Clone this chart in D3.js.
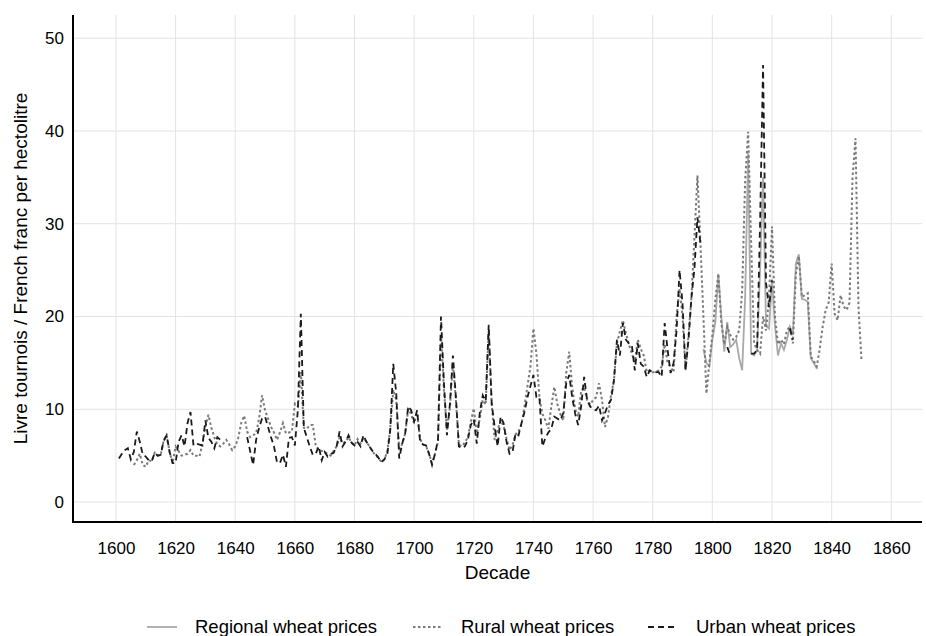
<!DOCTYPE html>
<meta charset="utf-8">
<style>
body { margin: 0; background: #fff; }
text { font-family: "Liberation Sans", Arial, sans-serif; fill: #000; }
.grid line { stroke: #e3e3e3; stroke-width: 1; }
</style>
<body>
<script src="https://cdn.jsdelivr.net/npm/d3@7"></script>
<script>

// annual prices, [year, value]; null = no data
var regional = [
  [1797,16.5],[1798,15.0],[1799,14.6],[1800,17.5],[1801,19.4],[1802,24.6],[1803,20.0],[1804,16.2],
  [1805,19.4],[1806,16.7],[1807,17.0],[1808,17.5],[1809,15.5],[1810,14.2],[1811,22.1],[1812,37.6],
  [1813,16.0],[1814,15.8],[1815,16.4],[1816,25.0],[1817,35.0],[1818,19.0],[1819,18.7],[1820,24.0],
  [1821,19.0],[1822,15.8],[1823,17.1],[1824,16.4],[1825,17.5],[1826,18.9],[1827,18.0],[1828,25.7],
  [1829,26.7],[1830,21.9],[1831,21.8],[1832,21.6],[1833,15.5],[1834,15.0],[1835,14.4]
];

var rural = [
  [1606,4.0],[1607,4.5],[1608,5.2],[1609,4.0],[1610,3.8],[1611,4.5],[1612,4.4],[1613,5.3],[1614,5.0],
  [1615,5.1],[1616,6.6],[1617,7.2],[1618,5.4],[1619,4.2],[1620,6.0],[1621,5.5],[1622,5.0],[1623,5.1],
  [1624,5.2],[1625,5.6],[1626,5.0],[1627,5.0],[1628,4.9],[1629,6.3],[1630,8.1],[1631,9.4],[1632,8.0],
  [1633,7.0],[1634,6.2],[1635,6.0],[1636,6.3],[1637,6.7],[1638,6.2],[1639,5.6],[1640,6.0],[1641,6.9],
  [1642,8.5],[1643,9.3],[1644,7.6],[1645,7.0],[1646,7.2],[1647,7.4],[1648,9.0],[1649,11.5],[1650,9.9],
  [1651,9.0],[1652,8.1],[1653,7.5],[1654,6.7],[1655,7.5],[1656,8.5],[1657,7.4],[1658,7.5],[1659,7.6],
  [1660,10.6],[1661,10.3],[1662,14.0],[1663,8.0],[1664,7.9],[1665,8.3],[1666,8.3],[1667,6.1],[1668,5.6],
  [1669,5.5],[1670,5.4],[1671,5.2],[1672,5.0],[1673,5.5],[1674,6.0],[1675,7.0],[1676,6.3],[1677,6.5],
  [1678,7.0],[1679,6.4],[1680,6.1],[1681,6.8],[1682,6.3],[1683,6.9],[1684,6.5],[1685,6.0],[1686,5.5],
  [1687,5.0],[1688,4.8],[1689,4.3],[1690,4.6],[1691,5.4],[1692,8.0],[1693,12.1],[1694,11.0],[1695,5.5],
  [1696,6.3],[1697,7.4],[1698,10.0],[1699,9.5],[1700,8.5],[1701,9.6],[1702,6.8],[1703,6.2],[1704,6.0],
  [1705,5.2],[1706,4.2],[1707,5.2],[1708,6.5],[1709,18.0],[1710,12.0],[1711,7.8],[1712,10.2],[1713,15.0],
  [1714,11.0],[1715,6.2],[1716,6.0],[1717,6.4],[1718,7.0],[1719,8.6],[1720,10.1],[1721,7.4],[1722,9.0],
  [1723,11.0],[1724,10.5],[1725,18.5],[1726,10.6],[1727,6.7],[1728,7.8],[1729,8.8],[1730,8.2],[1731,6.8],
  [1732,5.6],[1733,6.2],[1734,7.3],[1735,7.6],[1736,8.4],[1737,10.3],[1738,12.5],[1739,14.6],[1740,18.7],
  [1741,16.0],[1742,11.3],[1743,9.5],[1744,8.8],[1745,7.9],[1746,10.3],[1747,12.4],[1748,10.6],[1749,9.5],
  [1750,8.8],[1751,13.9],[1752,16.2],[1753,12.4],[1754,10.0],[1755,9.2],[1756,12.0],[1757,12.4],[1758,11.0],
  [1759,10.5],[1760,11.0],[1761,11.3],[1762,12.8],[1763,11.0],[1764,8.1],[1765,9.2],[1766,11.5],[1767,13.1],
  [1768,17.1],[1769,18.4],[1770,19.6],[1771,18.2],[1772,17.0],[1773,16.0],[1774,15.1],[1775,17.5],[1776,16.5],
  [1777,15.8],[1778,14.0],[1779,14.2],[1780,14.0],[1781,14.0],[1782,14.2],[1783,14.6],[1784,17.0],[1785,15.0],
  [1786,14.6],[1787,14.0],[1788,20.0],[1789,23.0],[1790,20.0],[1791,14.2],[1792,18.0],[1793,22.1],[1794,28.6],
  [1795,35.2],[1796,27.9],[1797,20.0],[1798,11.7],[1799,15.0],[1800,18.0],[1801,21.8],[1802,24.6],[1803,19.3],
  [1804,17.0],[1805,18.9],[1806,18.0],[1807,17.5],[1808,17.8],[1809,18.5],[1810,22.8],[1811,34.7],[1812,39.9],
  [1813,28.0],[1814,17.1],[1815,16.4],[1816,16.0],[1817,20.0],[1818,18.5],[1819,22.0],[1820,29.7],[1821,20.0],
  [1822,17.0],[1823,17.5],[1824,17.0],[1825,18.5],[1826,18.9],[1827,17.1],[1828,24.6],[1829,26.5],[1830,22.1],
  [1831,22.3],[1832,22.5],[1833,15.7],[1834,15.2],[1835,14.6],[1836,16.5],[1837,18.9],[1838,20.7],[1839,21.5],
  [1840,25.7],[1841,20.3],[1842,19.6],[1843,22.3],[1844,21.1],[1845,20.7],[1846,21.5],[1847,35.0],[1848,39.2],
  [1849,21.0],[1850,15.3]
];

var urban = [
  [1601,4.7],[1602,5.2],[1603,5.6],[1604,5.8],[1605,4.6],[1606,5.4],[1607,7.6],[1608,6.5],[1609,5.1],
  [1610,4.9],[1611,4.5],[1612,4.4],[1613,5.3],[1614,5.0],[1615,5.1],[1616,6.6],[1617,7.2],[1618,5.4],
  [1619,4.2],[1620,4.2],[1621,6.5],[1622,7.2],[1623,6.0],[1624,8.5],[1625,9.7],[1626,6.1],[1627,6.3],
  [1628,6.2],[1629,6.1],[1630,8.8],[1631,6.9],[1632,6.5],[1633,5.8],[1634,7.0],[1635,6.7],[1636,6.5],
  [1637,null],[1643,null],
  [1644,7.0],[1645,5.5],[1646,4.0],[1647,6.7],[1648,8.0],[1649,9.0],[1650,9.2],[1651,8.1],[1652,7.0],
  [1653,6.0],[1654,4.3],[1655,4.2],[1656,5.1],[1657,3.8],[1658,6.9],[1659,7.0],[1660,6.1],[1661,9.9],
  [1662,20.3],[1663,8.0],[1664,7.0],[1665,6.0],[1666,5.1],[1667,5.2],[1668,6.0],[1669,4.5],[1670,5.4],
  [1671,4.9],[1672,5.2],[1673,5.3],[1674,6.0],[1675,7.6],[1676,6.0],[1677,6.5],[1678,7.2],[1679,6.4],
  [1680,6.1],[1681,6.5],[1682,6.0],[1683,7.2],[1684,6.5],[1685,6.0],[1686,5.5],[1687,5.2],[1688,4.8],
  [1689,4.3],[1690,4.6],[1691,5.2],[1692,7.8],[1693,14.9],[1694,11.7],[1695,4.7],[1696,6.3],[1697,7.4],
  [1698,10.3],[1699,9.9],[1700,8.7],[1701,9.9],[1702,6.5],[1703,6.2],[1704,6.1],[1705,5.2],[1706,4.0],
  [1707,5.2],[1708,6.7],[1709,20.0],[1710,12.8],[1711,7.2],[1712,10.6],[1713,15.8],[1714,11.3],[1715,6.0],
  [1716,5.8],[1717,6.0],[1718,6.7],[1719,8.3],[1720,8.9],[1721,6.3],[1722,9.6],[1723,11.5],[1724,10.9],
  [1725,19.1],[1726,10.6],[1727,8.1],[1728,6.0],[1729,9.2],[1730,8.5],[1731,6.5],[1732,5.2],[1733,5.4],
  [1734,7.4],[1735,7.2],[1736,8.5],[1737,9.7],[1738,11.3],[1739,12.5],[1740,13.7],[1741,11.3],[1742,11.3],
  [1743,6.0],[1744,6.9],[1745,7.5],[1746,7.9],[1747,9.2],[1748,9.0],[1749,8.8],[1750,9.6],[1751,12.8],
  [1752,13.7],[1753,11.3],[1754,9.5],[1755,8.3],[1756,10.3],[1757,13.5],[1758,11.0],[1759,10.3],[1760,10.0],
  [1761,9.9],[1762,10.4],[1763,8.8],[1764,9.6],[1765,10.5],[1766,11.0],[1767,13.1],[1768,17.5],[1769,15.8],
  [1770,19.3],[1771,17.5],[1772,17.1],[1773,16.9],[1774,14.2],[1775,17.1],[1776,14.9],[1777,14.6],[1778,13.5],
  [1779,14.2],[1780,14.0],[1781,14.0],[1782,14.0],[1783,13.5],[1784,19.3],[1785,16.4],[1786,13.9],[1787,15.0],
  [1788,18.5],[1789,25.0],[1790,21.4],[1791,14.2],[1792,17.5],[1793,22.1],[1794,25.2],[1795,30.7],[1796,27.9],
  [1797,null],[1804,null],
  [1805,16.7],[1806,15.8],
  [1807,null],[1812,null],
  [1813,16.0],[1814,16.0],[1815,16.4],[1816,30.0],[1817,47.1],[1818,23.6],[1819,21.0],[1820,23.9],
  [1821,null],[1825,null],
  [1826,18.7],[1827,17.5]
];

var xTicks = [1600,1620,1640,1660,1680,1700,1720,1740,1760,1780,1800,1820,1840,1860];
var yTicks = [0,10,20,30,40,50];
var seriesNames = ["Regional wheat prices", "Rural wheat prices", "Urban wheat prices"];

var width = 926, height = 636;
var mLeft = 73, mRight = 922, mTop = 15, mBottom = 522;

var x = d3.scaleLinear().domain([1585.6, 1870.3]).range([mLeft, mRight]);
var y = d3.scaleLinear().domain([-2.15, 52.5]).range([mBottom, mTop]);

var svg = d3.select("body").append("svg")
    .attr("width", width)
    .attr("height", height);

// grid
var grid = svg.append("g").attr("class", "grid");
grid.selectAll(".gx").data(xTicks).enter().append("line")
    .attr("x1", function(d) { return x(d); }).attr("x2", function(d) { return x(d); })
    .attr("y1", mTop).attr("y2", mBottom);
grid.selectAll(".gy").data(yTicks).enter().append("line")
    .attr("y1", function(d) { return y(d); }).attr("y2", function(d) { return y(d); })
    .attr("x1", mLeft).attr("x2", mRight);

// axes (no tick marks, just labels)
var xAxis = svg.append("g")
    .attr("transform", "translate(0," + mBottom + ")")
    .call(d3.axisBottom(x).tickValues(xTicks).tickFormat(d3.format("d")).tickSize(0).tickPadding(20));
var yAxis = svg.append("g")
    .attr("transform", "translate(" + mLeft + ",0)")
    .call(d3.axisLeft(y).tickValues(yTicks).tickSize(0).tickPadding(9));
[xAxis, yAxis].forEach(function(a) {
  a.select(".domain").remove();
  a.selectAll("text").style("font-size", "17px").style("font-family", "Liberation Sans, Arial, sans-serif");
});

svg.append("line").attr("x1", mLeft).attr("x2", mLeft).attr("y1", mTop).attr("y2", mBottom + 1)
    .attr("stroke", "#000").attr("stroke-width", 2);
svg.append("line").attr("x1", mLeft - 1).attr("x2", mRight).attr("y1", mBottom).attr("y2", mBottom)
    .attr("stroke", "#000").attr("stroke-width", 2);

svg.append("text")
    .attr("x", (mLeft + mRight) / 2).attr("y", 579)
    .attr("text-anchor", "middle")
    .style("font-size", "19px")
    .text("Decade");

svg.append("text")
    .attr("transform", "translate(27," + ((mTop + mBottom) / 2) + ") rotate(-90)")
    .attr("text-anchor", "middle")
    .style("font-size", "19px")
    .text("Livre tournois / French franc per hectolitre");

// lines
var styles = [
  { color: "#a9a9a9", dash: null, w: 1.8 },
  { color: "#7a7a7a", dash: "2.5,2.5", w: 2 },
  { color: "#1a1a1a", dash: "6,4", w: 1.8 }
];
var line = d3.line()
    .defined(function(d) { return d[1] != null; })
    .x(function(d) { return x(d[0]); })
    .y(function(d) { return y(d[1]); });

[regional, rural, urban].forEach(function(data, i) {
  svg.append("path")
      .datum(data)
      .attr("fill", "none")
      .attr("stroke", styles[i].color)
      .attr("stroke-width", styles[i].w)
      .attr("stroke-dasharray", styles[i].dash)
      .attr("d", line);
});

// legend
var legendX = [147, 413, 648];
var legend = svg.append("g").attr("transform", "translate(0,627)");
seriesNames.forEach(function(name, i) {
  legend.append("line")
      .attr("x1", legendX[i]).attr("x2", legendX[i] + 30)
      .attr("stroke", styles[i].color)
      .attr("stroke-width", styles[i].w)
      .attr("stroke-dasharray", styles[i].dash);
  legend.append("text")
      .attr("x", legendX[i] + 48).attr("dy", "0.35em")
      .style("font-size", "18.5px")
      .text(name);
});

</script>
